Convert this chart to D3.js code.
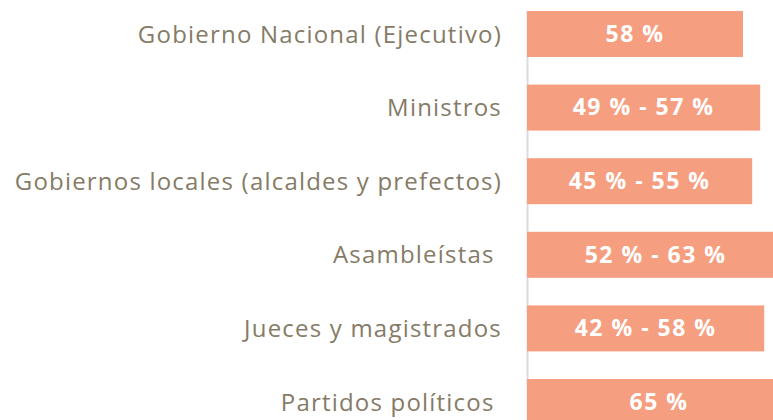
<!DOCTYPE html>
<html>
<head>
<meta charset="utf-8">
<script src="https://cdn.jsdelivr.net/npm/d3@7"></script>
<style>
  body { margin: 0; background: #fff; }
  svg { display: block; }
  .label { font-family: "Open Sans", sans-serif; font-size: 24px; letter-spacing: 1.2px; fill: #857b66; white-space: pre; }
  .value { font-family: "Open Sans", sans-serif; font-size: 23px; font-weight: bold; letter-spacing: 1.5px; fill: #fff; }
</style>
</head>
<body>
<script>
// Data
const categories = [
  "Gobierno Nacional (Ejecutivo)",
  "Ministros",
  "Gobiernos locales (alcaldes y prefectos)",
  "Asambleístas ",
  "Jueces y magistrados",
  "Partidos políticos "
];
const valueLabels = ["58 %", "49 % - 57 %", "45 % - 55 %", "52 % - 63 %", "42 % - 58 %", "65 %"];
// bar lengths as drawn
const barValues = [54, 58.3, 56.3, 64.3, 59.3, 66];

const width = 773, height = 420;
const margin = {top: 11, left: 527};

const svg = d3.select("body").append("svg")
  .attr("width", width)
  .attr("height", height);

const x = d3.scaleLinear().domain([0, 100]).range([margin.left, margin.left + 400]);
const y = d3.scaleBand().domain(categories).range([margin.top, 425])
  .paddingInner(0.375).paddingOuter(0);

// vertical baseline
svg.append("line")
  .attr("x1", x(0) + 0.5).attr("x2", x(0) + 0.5)
  .attr("y1", margin.top).attr("y2", height)
  .attr("stroke", "#dcdce0")
  .attr("stroke-width", 2);

svg.selectAll(".bar").data(categories)
  .enter().append("rect")
  .attr("class", "bar")
  .attr("x", x(0))
  .attr("y", d => y(d))
  .attr("width", (d, i) => x(barValues[i]) - x(0))
  .attr("height", y.bandwidth())
  .attr("fill", "#f59e80");

svg.selectAll(".value").data(categories)
  .enter().append("text")
  .attr("class", "value")
  .attr("x", (d, i) => (x(0) + x(barValues[i])) / 2)
  .attr("y", d => y(d) + y.bandwidth() / 2)
  .attr("dy", "0.34em")
  .attr("text-anchor", "middle")
  .text((d, i) => valueLabels[i]);

svg.selectAll(".label").data(categories)
  .enter().append("text")
  .attr("class", "label")
  .attr("x", x(0) - 25)
  .attr("y", d => y(d) + y.bandwidth() / 2)
  .attr("dy", "0.36em")
  .attr("text-anchor", "end")
  .text(d => d);
</script>
</body>
</html>
